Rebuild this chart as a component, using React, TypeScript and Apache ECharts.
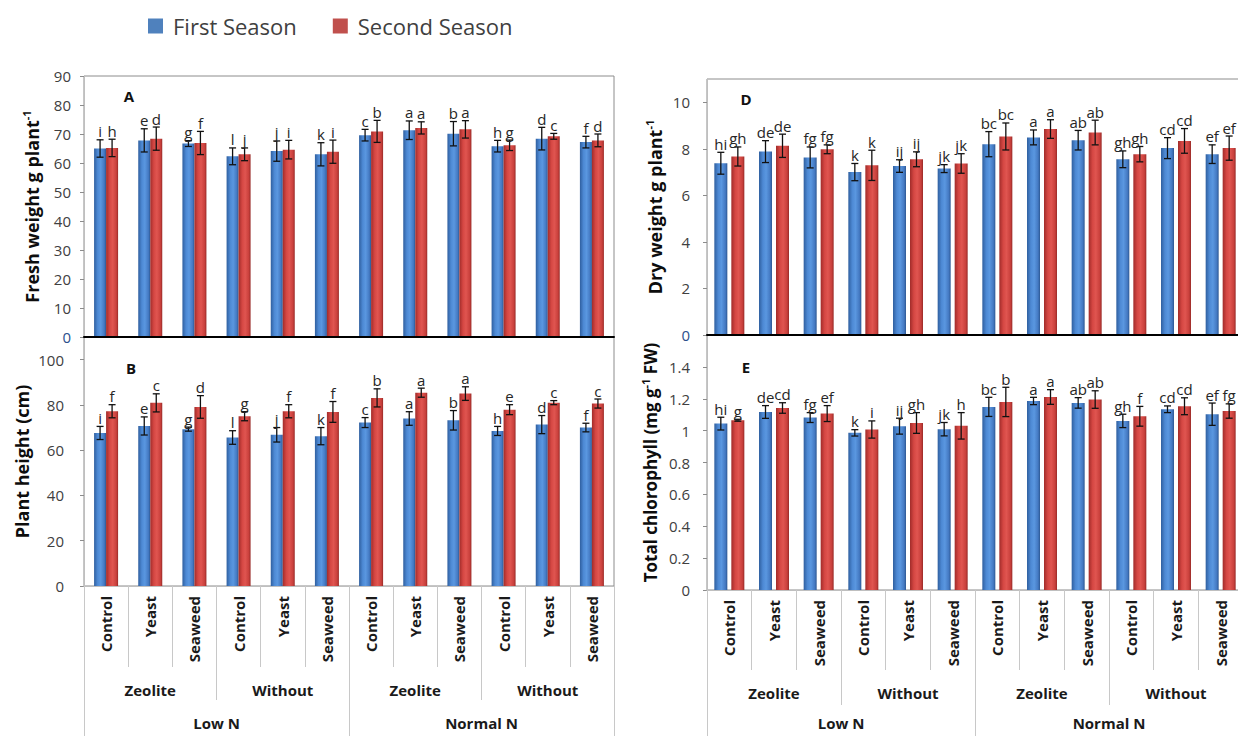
import React, { useEffect, useRef } from "react";
import * as echarts from "echarts";

// ---------- data ----------
const treatments = ["Control", "Yeast", "Seaweed", "Control", "Yeast", "Seaweed", "Control", "Yeast", "Seaweed", "Control", "Yeast", "Seaweed"];
const amendments = ["Zeolite", "Without", "Zeolite", "Without"];
const nLevels = ["Low N", "Normal N"];
const seasons = ["First Season", "Second Season"];

// A: Fresh weight
const freshFirst = [65.0, 67.8, 66.7, 62.3, 64.1, 63.0, 69.6, 71.3, 70.1, 65.8, 68.4, 67.2];
const freshFirstErr = [3.0, 4.0, 1.0, 2.9, 3.5, 4.0, 2.0, 3.2, 4.2, 2.0, 3.9, 2.0];
const freshSecond = [65.2, 68.4, 66.9, 63.0, 64.6, 63.9, 70.9, 72.1, 71.6, 66.1, 69.2, 67.8];
const freshSecondErr = [3.0, 4.0, 4.0, 2.2, 3.2, 4.0, 3.8, 2.1, 3.0, 1.8, 1.0, 2.2];
const freshFirstLetters = ["i", "e", "g", "l", "j", "k", "c", "a", "b", "h", "d", "f"];
const freshSecondLetters = ["h", "d", "f", "j", "i", "i", "b", "a", "a", "g", "c", "d"];

// B: Plant height
const heightFirst = [67.6, 70.7, 69.3, 65.6, 66.8, 66.2, 72.2, 74.0, 73.2, 68.5, 71.3, 70.0];
const heightFirstErr = [2.9, 4.0, 0.9, 3.0, 3.2, 3.8, 2.2, 3.0, 4.3, 2.0, 4.0, 1.9];
const heightSecond = [77.2, 80.9, 79.1, 75.0, 77.2, 76.9, 83.1, 85.4, 85.0, 77.9, 81.0, 80.6];
const heightSecondErr = [2.9, 4.0, 5.0, 2.0, 2.9, 4.6, 4.0, 2.0, 3.0, 2.2, 0.9, 2.0];
const heightFirstLetters = ["i", "e", "g", "l", "j", "k", "c", "a", "b", "h", "d", "f"];
const heightSecondLetters = ["f", "c", "d", "g", "f", "f", "b", "a", "a", "e", "c", "c"];

// D: Dry weight
const dryFirst = [7.38, 7.88, 7.63, 7.0, 7.26, 7.15, 8.2, 8.49, 8.37, 7.55, 8.03, 7.77];
const dryFirstErr = [0.47, 0.47, 0.45, 0.37, 0.27, 0.17, 0.54, 0.32, 0.42, 0.36, 0.45, 0.4];
const drySecond = [7.67, 8.13, 7.98, 7.29, 7.55, 7.37, 8.53, 8.85, 8.7, 7.77, 8.34, 8.03];
const drySecondErr = [0.41, 0.5, 0.19, 0.65, 0.32, 0.42, 0.58, 0.4, 0.53, 0.33, 0.53, 0.52];
const dryFirstLetters = ["hi", "de", "fg", "k", "ij", "jk", "bc", "a", "ab", "gh", "cd", "ef"];
const drySecondLetters = ["gh", "de", "fg", "k", "ij", "jk", "bc", "a", "ab", "gh", "cd", "ef"];

// E: Total chlorophyll
const chlFirst = [1.044, 1.117, 1.082, 0.986, 1.028, 1.009, 1.149, 1.186, 1.174, 1.061, 1.134, 1.103];
const chlFirstErr = [0.04, 0.04, 0.031, 0.02, 0.05, 0.042, 0.06, 0.023, 0.033, 0.042, 0.021, 0.07];
const chlSecond = [1.065, 1.142, 1.107, 1.007, 1.048, 1.03, 1.18, 1.211, 1.195, 1.09, 1.153, 1.123];
const chlSecondErr = [0.006, 0.033, 0.05, 0.054, 0.065, 0.083, 0.092, 0.046, 0.055, 0.062, 0.053, 0.045];
const chlFirstLetters = ["hi", "de", "fg", "k", "ij", "jk", "bc", "a", "ab", "gh", "cd", "ef"];
const chlSecondLetters = ["g", "cd", "ef", "i", "gh", "h", "b", "a", "ab", "f", "cd", "fg"];

const FONT = "'Open Sans', 'Noto Sans', sans-serif";

type Panel = {
  tag: string;
  tagPos: [number, number];
  grid: { left: number; top: number; width: number; height: number };
  yMax: number;
  yInterval: number;
  hideMax: boolean;
  first: number[];
  firstErr: number[];
  firstLetters: string[];
  second: number[];
  secondErr: number[];
  secondLetters: string[];
  barWidth: number;
  barGapPx: number;
  yName: string;
  nameGap: number;
  nameSize: number;
  labelMargin: number;
  zeroColor: string;
  cats: null | { ticks: [number, number, number]; margins: [number, number, number] };
};

const panels: Panel[] = [
  {
    tag: "A", tagPos: [129, 96],
    grid: { left: 84, top: 76, width: 530, height: 261 },
    yMax: 90, yInterval: 10, hideMax: false,
    first: freshFirst, firstErr: freshFirstErr, firstLetters: freshFirstLetters,
    second: freshSecond, secondErr: freshSecondErr, secondLetters: freshSecondLetters,
    barWidth: 12, barGapPx: 0,
    yName: "{t|Fresh weight g plant}{s|-1}", nameGap: 41, nameSize: 18, labelMargin: 13,
    zeroColor: "#2b4f8c", cats: null,
  },
  {
    tag: "B", tagPos: [131, 368],
    grid: { left: 84, top: 337, width: 530, height: 249 },
    yMax: 110, yInterval: 20, hideMax: true,
    first: heightFirst, firstErr: heightFirstErr, firstLetters: heightFirstLetters,
    second: heightSecond, secondErr: heightSecondErr, secondLetters: heightSecondLetters,
    barWidth: 12, barGapPx: 0,
    yName: "{t|Plant height (cm)}", nameGap: 51, nameSize: 18, labelMargin: 20,
    zeroColor: "#404040",
    cats: { ticks: [81, 114, 160], margins: [10, 96, 129] },
  },
  {
    tag: "D", tagPos: [746, 99],
    grid: { left: 707, top: 79, width: 536, height: 256 },
    yMax: 11, yInterval: 2, hideMax: true,
    first: dryFirst, firstErr: dryFirstErr, firstLetters: dryFirstLetters,
    second: drySecond, secondErr: drySecondErr, secondLetters: drySecondLetters,
    barWidth: 13, barGapPx: 4,
    yName: "{t|Dry weight g plant}{s|-1}", nameGap: 41, nameSize: 18, labelMargin: 17,
    zeroColor: "#2b4f8c", cats: null,
  },
  {
    tag: "E", tagPos: [746, 367],
    grid: { left: 707, top: 335, width: 536, height: 255 },
    yMax: 1.6, yInterval: 0.2, hideMax: true,
    first: chlFirst, firstErr: chlFirstErr, firstLetters: chlFirstLetters,
    second: chlSecond, secondErr: chlSecondErr, secondLetters: chlSecondLetters,
    barWidth: 13, barGapPx: 4,
    yName: "{t|Total chlorophyll (mg g}{s|-1}{t| FW)}", nameGap: 46, nameSize: 17, labelMargin: 17,
    zeroColor: "#404040",
    cats: { ticks: [80, 115, 160], margins: [10, 95, 125] },
  },
];

function makeErrRender(values: number[], errs: number[], letters: string[], offset: number) {
  return (params: any, api: any) => {
    const i = params.dataIndex;
    const c = api.coord([api.value(0), values[i]]);
    const x = c[0] + offset;
    const top = api.coord([api.value(0), values[i] + errs[i]])[1];
    const bot = api.coord([api.value(0), values[i] - errs[i]])[1];
    const st = { stroke: "#111", lineWidth: 1.3 };
    return {
      type: "group",
      children: [
        { type: "line", shape: { x1: x, y1: top, x2: x, y2: bot }, style: st },
        { type: "line", shape: { x1: x - 3.5, y1: top, x2: x + 3.5, y2: top }, style: st },
        { type: "line", shape: { x1: x - 3.5, y1: bot, x2: x + 3.5, y2: bot }, style: st },
        {
          type: "text",
          x,
          y: top - 1,
          style: {
            text: letters[i],
            fill: "#262626",
            font: `15px ${FONT}`,
            align: "center",
            verticalAlign: "bottom",
          },
        },
      ],
    };
  };
}

export default function App() {
  const ref = useRef<HTMLDivElement>(null);
  useEffect(() => {
    if (!ref.current) return;
    const chart = echarts.init(ref.current, undefined, { renderer: "svg" });

    const blue = () =>
      new echarts.graphic.LinearGradient(0, 0, 1, 0, [
        { offset: 0, color: "#2f5f9f" },
        { offset: 0.3, color: "#4d89d4" },
        { offset: 0.55, color: "#5a97e0" },
        { offset: 0.85, color: "#4479c2" },
        { offset: 1, color: "#2c5792" },
      ]);
    const red = () =>
      new echarts.graphic.LinearGradient(0, 0, 1, 0, [
        { offset: 0, color: "#a12c2a" },
        { offset: 0.3, color: "#d54743" },
        { offset: 0.55, color: "#e05550" },
        { offset: 0.85, color: "#c9403c" },
        { offset: 1, color: "#982a27" },
      ]);

    const grids: any[] = [];
    const xAxes: any[] = [];
    const yAxes: any[] = [];
    const series: any[] = [];
    const graphics: any[] = [];

    panels.forEach((p, gi) => {
      grids.push({
        ...p.grid,
        show: true,
        borderColor: "#8c8c8c",
        borderWidth: 1,
        backgroundColor: "transparent",
        outerBoundsMode: "none",
        containLabel: false,
      });
      const mainX = xAxes.length;
      if (!p.cats) {
        xAxes.push({
          gridIndex: gi, type: "category", data: treatments, position: "bottom",
          axisLine: { show: true, onZero: false, lineStyle: { color: "#000", width: 2 } },
          axisTick: { show: false }, axisLabel: { show: false }, z: 5,
        });
      } else {
        const catLabel = { fontFamily: FONT, fontWeight: "bold", fontSize: 15, color: "#1a1a1a" };
        xAxes.push({
          gridIndex: gi, type: "category", data: treatments, position: "bottom",
          axisLine: { show: true, onZero: false, lineStyle: { color: "#bfbfbf", width: 1 } },
          axisTick: { show: true, interval: 0, length: p.cats.ticks[0], lineStyle: { color: "#c8c8c8" } },
          axisLabel: { ...catLabel, rotate: 90, interval: 0, margin: p.cats.margins[0] },
          z: 4,
        });
        xAxes.push({
          gridIndex: gi, type: "category", data: amendments, position: "bottom",
          axisLine: { show: false, onZero: false },
          axisTick: { show: true, interval: 0, length: p.cats.ticks[1], lineStyle: { color: "#c8c8c8" } },
          axisLabel: { ...catLabel, interval: 0, margin: p.cats.margins[1] },
        });
        xAxes.push({
          gridIndex: gi, type: "category", data: nLevels, position: "bottom",
          axisLine: { show: false, onZero: false },
          axisTick: { show: true, interval: 0, length: p.cats.ticks[2], lineStyle: { color: "#c8c8c8" } },
          axisLabel: { ...catLabel, interval: 0, margin: p.cats.margins[2] },
        });
      }
      const nameStyle = { fontFamily: FONT, fontWeight: "bold", color: "#0d0d0d" };
      yAxes.push({
        gridIndex: gi, type: "value", min: 0, max: p.yMax, interval: p.yInterval,
        splitLine: { show: false },
        axisLine: { show: true, lineStyle: { color: "#bfbfbf" } },
        axisTick: { show: true, length: 4, lineStyle: { color: "#8c8c8c" } },
        axisLabel: {
          fontFamily: FONT, fontSize: 15, margin: p.labelMargin, showMaxLabel: !p.hideMax,
          color: (v: any) => (Number(v) === 0 ? p.zeroColor : "#404040"),
        },
        name: p.yName, nameLocation: "middle", nameRotate: 90, nameGap: p.nameGap,
        nameTextStyle: {
          ...nameStyle, fontSize: p.nameSize,
          rich: {
            t: { ...nameStyle, fontSize: p.nameSize, lineHeight: p.nameSize + 4 },
            s: { ...nameStyle, fontSize: 11, lineHeight: 11, verticalAlign: "top" },
          },
        },
        z: 3,
      });
      const half = (p.barWidth + p.barGapPx) / 2;
      const gapPct = `${(p.barGapPx / p.barWidth) * 100}%`;
      series.push({
        name: seasons[0], type: "bar", xAxisIndex: mainX, yAxisIndex: gi,
        data: p.first, barWidth: p.barWidth, barGap: gapPct,
        itemStyle: { color: blue() }, z: 2,
      });
      series.push({
        name: seasons[1], type: "bar", xAxisIndex: mainX, yAxisIndex: gi,
        data: p.second, barWidth: p.barWidth, barGap: gapPct,
        itemStyle: { color: red() }, z: 2,
      });
      series.push({
        name: `err-${p.tag}-1`, type: "custom", xAxisIndex: mainX, yAxisIndex: gi,
        data: p.first.map((v, i) => [i, v]), encode: { x: 0, y: 1 },
        renderItem: makeErrRender(p.first, p.firstErr, p.firstLetters, -half), z: 4, silent: true,
      });
      series.push({
        name: `err-${p.tag}-2`, type: "custom", xAxisIndex: mainX, yAxisIndex: gi,
        data: p.second.map((v, i) => [i, v]), encode: { x: 0, y: 1 },
        renderItem: makeErrRender(p.second, p.secondErr, p.secondLetters, half), z: 4, silent: true,
      });
      graphics.push({
        type: "text", x: p.tagPos[0], y: p.tagPos[1], z: 10,
        style: {
          text: p.tag, fill: "#111", font: `bold 15px ${FONT}`,
          align: "center", verticalAlign: "middle",
        },
      });
    });

    chart.setOption({
      animation: false,
      backgroundColor: "#ffffff",
      legend: {
        left: 143, top: 10, icon: "rect", itemWidth: 15, itemHeight: 15, itemGap: 36,
        textStyle: { fontFamily: FONT, fontSize: 22, color: "#404040", padding: [0, 0, 0, 5] },
        data: [
          { name: seasons[0], itemStyle: { color: "#4f81bd" } },
          { name: seasons[1], itemStyle: { color: "#c0504d" } },
        ],
        selectedMode: false,
      },
      grid: grids,
      xAxis: xAxes,
      yAxis: yAxes,
      series,
      graphic: graphics,
    });
    return () => chart.dispose();
  }, []);
  return (
    <div
      ref={ref}
      style={{ position: "absolute", left: 0, top: 0, width: 1238, height: 736, overflow: "hidden", background: "#fff" }}
    />
  );
}
